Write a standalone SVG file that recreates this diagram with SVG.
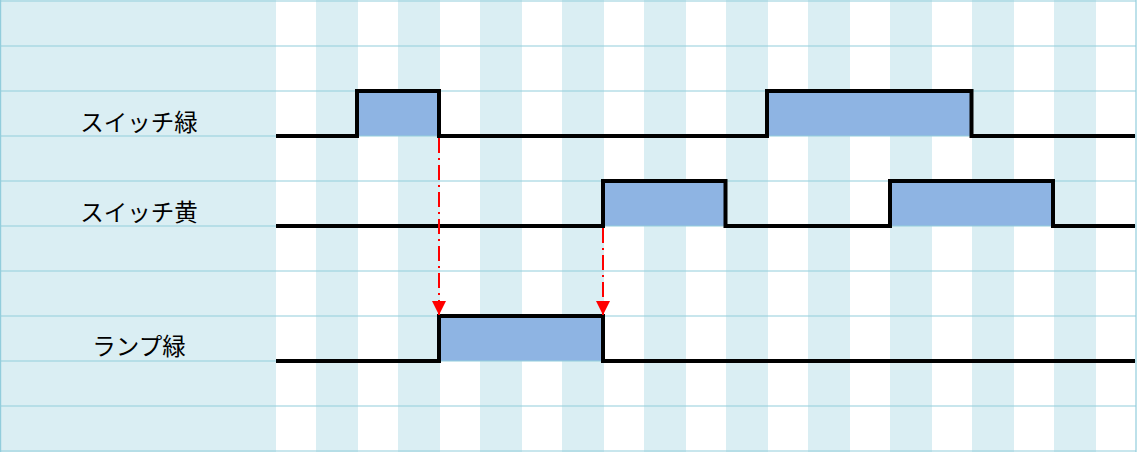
<svg xmlns="http://www.w3.org/2000/svg" width="1137" height="452" viewBox="0 0 1137 452">
<style>
.bg{fill:#DAEEF3}
.grid{stroke:#92CDDC;stroke-width:1.2;fill:none}
.fill{fill:#8EB4E3}
.sig{stroke:#000;stroke-width:4;fill:none;stroke-linejoin:miter;stroke-linecap:butt}
.lbl{font-family:"Noto Sans CJK JP","Noto Sans",sans-serif;font-size:23.5px;fill:#000;text-anchor:middle}
.arr{stroke:#FF0000;stroke-width:2;fill:none;stroke-dasharray:15 5 2 5}
</style>
<defs>
<marker id="ah" markerUnits="userSpaceOnUse" markerWidth="14" markerHeight="14" viewBox="0 0 14 14" refX="14" refY="7" orient="auto">
<path d="M0,0 L14,7 L0,14 Z" fill="#FF0000"/>
</marker>
</defs>
<g id="background">
<rect x="0" y="0" width="1137" height="452" fill="#fff"/>
<rect class="bg" x="0" y="0" width="276" height="452"/>
<rect class="bg" x="316" y="0" width="42" height="452"/>
<rect class="bg" x="398" y="0" width="42" height="452"/>
<rect class="bg" x="480" y="0" width="42" height="452"/>
<rect class="bg" x="562" y="0" width="42" height="452"/>
<rect class="bg" x="644" y="0" width="42" height="452"/>
<rect class="bg" x="726" y="0" width="42" height="452"/>
<rect class="bg" x="808" y="0" width="42" height="452"/>
<rect class="bg" x="890" y="0" width="42" height="452"/>
<rect class="bg" x="972" y="0" width="42" height="452"/>
<rect class="bg" x="1054" y="0" width="42" height="452"/>
</g>
<g id="fills">
<rect class="fill" x="357" y="91" width="82" height="45"/>
<rect class="fill" x="767" y="91" width="204.5" height="45"/>
<rect class="fill" x="603" y="181" width="122.5" height="45"/>
<rect class="fill" x="890" y="181" width="163" height="45"/>
<rect class="fill" x="439" y="316" width="164" height="45"/>
</g>
<g id="grid" class="grid">
<path d="M0,1H1136M0,46H1136M0,91H1136M0,136H1136M0,181H1136M0,226H1136M0,271H1136M0,316H1136M0,361H1136M0,406H1136M0,451H1136"/>
<path d="M0.6,0V452M1136,0V452"/>
</g>
<g id="switch-green">
<text class="lbl" x="139" y="131">スイッチ緑</text>
<polyline class="sig" points="276,136 357,136 357,91 439,91 439,136 767,136 767,91 971.5,91 971.5,136 1135,136"/>
</g>
<g id="switch-yellow">
<text class="lbl" x="139" y="221">スイッチ黄</text>
<polyline class="sig" points="276,226 603,226 603,181 725.5,181 725.5,226 890,226 890,181 1053,181 1053,226 1135,226"/>
</g>
<g id="lamp-green">
<text class="lbl" x="139" y="355">ランプ緑</text>
<polyline class="sig" points="276,361 439,361 439,316 603,316 603,361 1135,361"/>
</g>
<g id="connectors">
<line class="arr" x1="439" y1="138" x2="439" y2="315" marker-end="url(#ah)"/>
<line class="arr" x1="603" y1="228" x2="603" y2="315" marker-end="url(#ah)"/>
</g>
</svg>
